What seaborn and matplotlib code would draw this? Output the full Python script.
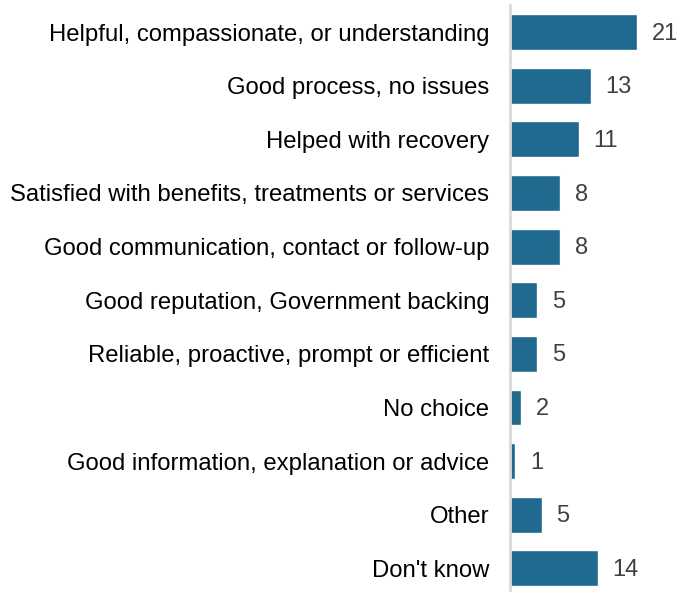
import matplotlib
matplotlib.use("Agg")
import matplotlib.pyplot as plt
import seaborn as sns
import pandas as pd

categories = [
    "Helpful, compassionate, or understanding",
    "Good process, no issues",
    "Helped with recovery",
    "Satisfied with benefits, treatments or services",
    "Good communication, contact or follow-up",
    "Good reputation, Government backing",
    "Reliable, proactive, prompt or efficient",
    "No choice",
    "Good information, explanation or advice",
    "Other",
    "Don't know",
]
values = [20.9, 13.2, 11.3, 8.2, 8.2, 4.5, 4.5, 1.8, 0.9, 5.2, 14.4]
value_labels = ["21", "13", "11", "8", "8", "5", "5", "2", "1", "5", "14"]

sns.set_theme(style="white")
plt.rcParams["font.family"] = ["Liberation Sans", "DejaVu Sans"]

df = pd.DataFrame({"category": categories, "value": values})

fig = plt.figure(figsize=(6.78, 5.92), dpi=100)
ax = fig.add_axes([510 / 678, 0.0, 168 / 678, 1 - 5.2 / 592])

sns.barplot(data=df, x="value", y="category", color="#1F6A8E", width=0.67,
            saturation=1, ax=ax, orient="h")

for i, (v, lab) in enumerate(zip(values, value_labels)):
    ax.text(v + 2.4, i + 0.03, lab, va="center", ha="left", fontsize=17, color="#404040")

ax.set_xlim(0, 168 / 6.1)
ax.set_ylim(10.44, -0.5)
ax.set_xlabel("")
ax.set_ylabel("")
ax.set_xticks([])
for s in ["top", "right", "bottom"]:
    ax.spines[s].set_visible(False)
ax.spines["left"].set_color("#d9d9d9")
ax.spines["left"].set_linewidth(2)
ax.tick_params(axis="y", length=0, pad=15, labelsize=17.2, labelcolor="black")

fig.savefig("out.png", dpi=100)
